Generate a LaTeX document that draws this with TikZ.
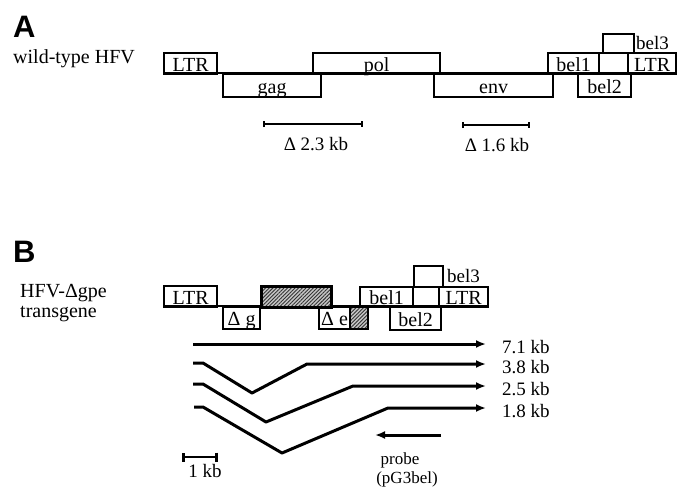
\documentclass[tikz,border=0pt]{standalone}
\usepackage{fontspec}
\setmainfont{Liberation Serif}
\newfontfamily\panelfont{Liberation Sans}
\usetikzlibrary{patterns.meta,arrows.meta,calc}
\newcommand\gbx[7][]{\node[gbox,#1,minimum width=#5-#3,minimum height=#6-#4] (#2) at (#3,#4) {#7};}
\begin{document}
\begin{tikzpicture}[x=1pt,y=-1pt,
  gbox/.style={draw,line width=2.2pt,inner sep=0pt,anchor=north west,
    text height=15pt,text depth=0pt,font=\fontsize{20}{20}\selectfont},
  hatch/.style={preaction={fill=gray!45},pattern={Lines[angle=45,distance=2.6pt,line width=0.9pt]},pattern color=black!80},
  lbl/.style={inner sep=0pt,font=\fontsize{19}{19}\selectfont},
  mainlbl/.style={inner sep=0pt,anchor=base west,font=\fontsize{20}{20}\selectfont},
  panel/.style={inner sep=0pt,anchor=base west,font=\panelfont\bfseries\fontsize{31}{31}\selectfont},
  scalebar/.style={line width=2.2pt,{Bar[width=6pt]}-{Bar[width=6pt]}},
  transcript/.style={line width=3pt,line join=round,-{Latex[length=10pt,width=8pt]}},
  baseln/.style={line width=2.2pt}]
\useasboundingbox (0,0) rectangle (687,491);

% ---------------- Panel A ----------------
\node[panel] (pA) at (13,37) {A};
\node[mainlbl] (wt) at (13,63) {wild-type HFV};

\draw[baseln] (163,73) coordinate (a0) -- (675,73) coordinate (a1);
\gbx{ltrA}{163}{52}{216}{73}{LTR}
\gbx{gagA}{222}{73}{320}{96}{gag}
\gbx{polA}{312}{52}{439}{73}{pol}
\gbx{envA}{433}{73}{552}{96}{env}
\gbx{bela}{547}{52}{598}{73}{bel1}
\gbx{midA}{598}{52}{627}{73}{}
\gbx{ltrAr}{627}{52}{675}{73}{LTR}
\gbx{belcA}{602}{33}{633}{52}{}
\gbx{belbA}{577}{73}{630}{96}{bel2}
\node[lbl,anchor=west] (bel3A) at (636,43) {bel3};

\coordinate (s1a) at (263,124);
\coordinate (s1b) at (363,124);
\draw[scalebar] (s1a) -- (s1b);
\node[lbl,anchor=base] (d23) at (316,150) {Δ 2.3 kb};
\coordinate (s2a) at (462,125);
\coordinate (s2b) at (530,125);
\draw[scalebar] (s2a) -- (s2b);
\node[lbl,anchor=base] (d16) at (497,151) {Δ 1.6 kb};

% ---------------- Panel B ----------------
\node[panel] (pB) at (13,262) {B};
\node[mainlbl] (tg1) at (20,297) {HFV-Δgpe};
\node[mainlbl] (tg2) at (20,317) {transgene};

\draw[baseln] (163,306) coordinate (b0) -- (487,306) coordinate (b1);
\gbx{ltrB}{163}{285}{216}{306}{LTR}
\gbx{dgB}{222}{306}{259}{328}{Δ g}
\gbx[hatch,line width=3pt]{hB}{260}{285}{330}{306}{}
\gbx{deB}{318}{306}{349}{328}{Δ e}
\gbx[hatch]{hsB}{349}{306}{367}{328}{}
\gbx{belaB}{359}{286}{412}{306}{bel1}
\gbx{midB}{412}{286}{438}{306}{}
\gbx{ltrBr}{438}{286}{487}{306}{LTR}
\gbx{belcB}{413}{265}{442}{286}{}
\gbx{belbB}{389}{306}{440}{329}{bel2}
\node[lbl,anchor=west] (bel3B) at (447,276) {bel3};

% transcripts
\node[lbl,anchor=base west] (k71) at (502,353) {7.1 kb};
\node[lbl,anchor=base west] (k38) at (502,373) {3.8 kb};
\node[lbl,anchor=base west] (k25) at (502,395) {2.5 kb};
\node[lbl,anchor=base west] (k18) at (502,417) {1.8 kb};

\coordinate (t1s) at (193,344); \coordinate (t1e) at (486,344);
\coordinate (t2s) at (193,363); \coordinate (t2e) at (486,364);
\coordinate (t3s) at (193,384); \coordinate (t3e) at (486,386);
\coordinate (t4s) at (194,407); \coordinate (t4e) at (486,408);
\draw[transcript] (t1s) -- (t1e);
\draw[transcript] (t2s) -- (203,363) -- (252,393) -- (307,364) -- (t2e);
\draw[transcript] (t3s) -- (203,384) -- (266,422) -- (353,386) -- (t3e);
\draw[transcript] (t4s) -- (203,407) -- (282,453) -- (388,408) -- (t4e);

% probe
\coordinate (pr1) at (441,435);
\coordinate (pr2) at (375,435);
\draw[transcript] (pr1) -- (pr2);
\node[lbl,anchor=base,font=\fontsize{17}{17}\selectfont] (probe) at (400,464) {probe};
\node[lbl,anchor=base,font=\fontsize{17}{17}\selectfont] (pg3) at (407,483) {(pG3bel)};

% 1 kb scale
\coordinate (k1a) at (182,457);
\coordinate (k1b) at (218,457);
\draw[line width=2.6pt,{Bar[width=9pt]}-{Bar[width=9pt]}] (k1a) -- (k1b);
\node[lbl,anchor=base] (onekb) at (205,477) {1 kb};
\end{tikzpicture}
\end{document}
